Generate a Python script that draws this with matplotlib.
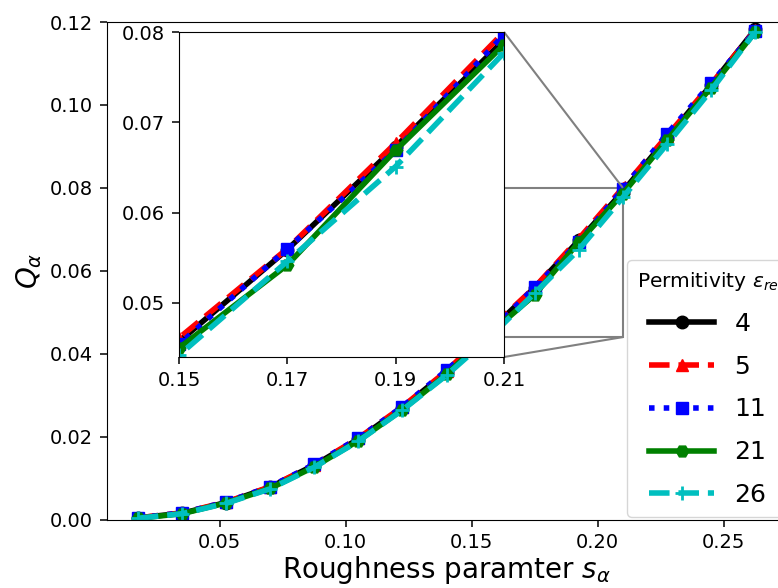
import matplotlib
matplotlib.use('Agg')
import matplotlib.pyplot as plt
from mpl_toolkits.axes_grid1.inset_locator import mark_inset

# roughness parameter values
s_alpha = [0.0175, 0.035, 0.0525, 0.07, 0.0875, 0.105, 0.1225, 0.14,
           0.1575, 0.175, 0.1925, 0.21, 0.2275, 0.245, 0.2625]

# Q_alpha for each permittivity
q_eps4 = [0.0004, 0.0015, 0.0041, 0.0078, 0.0131, 0.0194, 0.0270, 0.0356,
          0.0457, 0.0559, 0.0673, 0.0791, 0.0920, 0.1048, 0.1182]
q_eps5 = [0.0004, 0.0016, 0.0042, 0.0079, 0.0132, 0.0196, 0.0272, 0.0358,
          0.0461, 0.0560, 0.0677, 0.0800, 0.0925, 0.1050, 0.1180]
q_eps11 = [0.0004, 0.0016, 0.0042, 0.0079, 0.0133, 0.0196, 0.0272, 0.0360,
           0.0454, 0.0560, 0.0669, 0.0797, 0.0930, 0.1052, 0.1178]
q_eps21 = [0.0003, 0.0014, 0.0040, 0.0075, 0.0127, 0.0190, 0.0265, 0.0350,
           0.0450, 0.0542, 0.0669, 0.0786, 0.0915, 0.1042, 0.1176]
q_eps26 = [0.0003, 0.0014, 0.0039, 0.0074, 0.0126, 0.0189, 0.0264, 0.0348,
           0.0442, 0.0546, 0.0651, 0.0777, 0.0905, 0.1035, 0.1176]

labels = ['4', '5', '11', '21', '26']
series = [q_eps4, q_eps5, q_eps11, q_eps21, q_eps26]
styles = [('k', '-', 'o'), ('r', '--', '^'), ('b', ':', 's'),
          ('g', '-', 'H'), ('c', '--', '+')]

# inset tick labels
inset_ticks = [0.1575, 0.175, 0.1925, 0.21]
inset_ticklabels = ['0.15', '0.17', '0.19', '0.21']

fig = plt.figure(figsize=(7.78, 5.88), dpi=100)
ax = fig.add_axes([107 / 778, 68.5 / 588, 679 / 778, 497.5 / 588])


def draw(a):
    for q, lab, (c, ls, m) in zip(series, labels, styles):
        a.plot(s_alpha, q, color=c, linestyle=ls, marker=m, lw=4,
               markersize=9 if m != '+' else 10, mew=2 if m == '+' else 1,
               label=lab)


draw(ax)
ax.set_ylim(0, 0.12)
ax.set_yticks([0, 0.02, 0.04, 0.06, 0.08, 0.10, 0.12])
ax.set_xticks([0.05, 0.10, 0.15, 0.20, 0.25])
ax.tick_params(labelsize=14, length=5, pad=5, width=1.1)
ax.set_xlabel(r'Roughness paramter $s_\alpha$', fontsize=20, labelpad=1)
ax.set_ylabel(r'$Q_\alpha$', fontsize=20)

leg = ax.legend(title=r'Permitivity $\varepsilon_{re}$', fontsize=18,
                title_fontsize=14.5, loc='lower left', handlelength=2.6,
                labelspacing=0.75, borderaxespad=0,
                bbox_to_anchor=(627 / 778, 71 / 588),
                bbox_transform=fig.transFigure)

# zoomed inset
axins = fig.add_axes([179 / 778, 231 / 588, 325 / 778, 325 / 588])
draw(axins)
axins.set_xlim(0.1575, 0.21)
axins.set_ylim(0.044, 0.08)
axins.set_xticks(inset_ticks)
axins.set_xticklabels(inset_ticklabels)
axins.set_yticks([0.05, 0.06, 0.07, 0.08])
axins.tick_params(labelsize=14, length=5, pad=5, width=1.1)
mark_inset(ax, axins, loc1=1, loc2=4, fc='none', ec='0.5', lw=1.5)

plt.savefig('out.png', dpi=100)
